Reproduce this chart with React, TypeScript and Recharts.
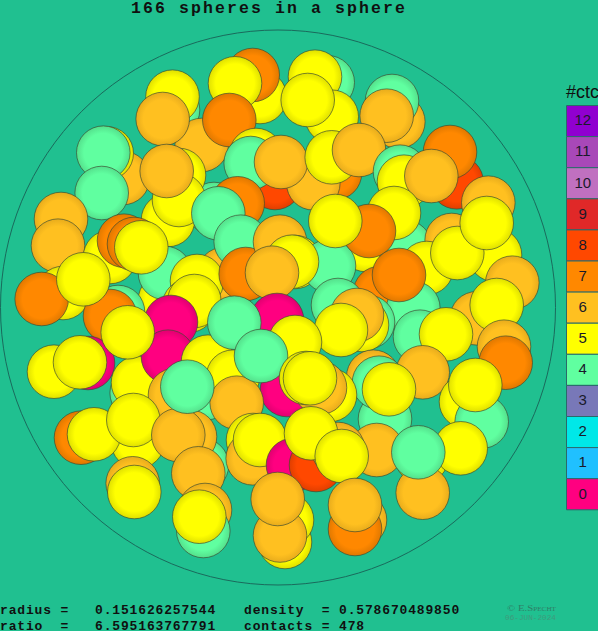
import React from "react";
import { ScatterChart, Scatter, XAxis, YAxis, ReferenceArea, ReferenceDot } from "recharts";

// one row per visible sphere, back to front: position in picture units, contact count
const sphereX = [
  260,252.7,235,173,172.5,201.7,162.7,229.3,
  123,106.7,103.3,101.7,
  214,168,179,179,166.7,
  275,335,313.3,256,250.7,281,237.7,218.3,
  165,165,61,58,110,124,134,141.3,
  224,197,240.7,245.7,280,295,
  189,194.3,
  63,41.7,118,110,83.3,
  171,88,54,80,136.7,138,168,127.7,
  327.7,315,331.7,307.7,
  398.3,392,386.7,
  331.7,359,400,404,
  456.7,450,431.3,488.3,
  366,329,405,394,369,335.3,292,272,
  451.7,495,512.3,426.7,457.3,486.7,
  380,413.3,399,420,338,368,362,357,341,
  476.7,496.7,446,
  504,505.7,
  277,287,207,208,233,175,234.3,295,236.7,261,
  385,422.7,373.3,379,389,
  330,320,306,310,
  466,481.7,475.3,
  421.7,422.7,460.7,376.7,418.3,
  81,137.7,94,133.3,
  202,190,178.3,187.3,198.3,
  132.7,134.3,
  205,203.3,199.3,
  253,252.7,260,
  293,316,338,311,341.7,
  285,287,280,277.7,
  360,355,355,
];
const sphereY = [
  97,75,83.3,110,96.7,145,119,120,
  178,153.3,152.7,193,
  209,220,175,200,171,
  183,173,183.3,155,163,162,203.3,213.3,
  300,273,219,245.7,257,240.7,244,247.3,
  274,281,241.7,274,241.7,262,
  305.7,301,
  293,299,312,316,279.3,
  322,363,371.7,362.3,393,382.7,356.7,332.3,
  82.3,76.7,116.7,100,
  121.7,101,115.7,
  157.3,150,171.7,181.7,
  182.3,152,176,202.7,
  245,266,246.7,213,231,221,261.7,272.7,
  240,255,282.7,268,253,223,
  293,308,275,336.7,305,322,325,315,330,
  318.3,305,334.3,
  346.7,362.7,
  320,390,393,361.7,376.7,395,322.7,342,402.7,356,
  419,372.3,376.7,382.7,389.3,
  395,387.7,378,378.3,
  401.7,421.7,385,
  457,492.7,448.3,450,452.3,
  437.7,441.7,434.3,420,
  465,436.7,435,386.7,473.3,
  483.3,492,
  510,531,516.7,
  440,458.3,440,
  465,465,449,433.3,456,
  542,520,535.5,499,
  520,529,505,
];
const sphereCtc = [
  5,7,5,4,5,6,6,7,
  6,5,4,4,
  4,5,5,5,6,
  8,7,6,5,4,6,7,4,
  5,4,6,6,5,7,7,5,
  6,5,4,7,6,5,
  5,5,
  5,7,4,7,5,
  0,0,5,5,4,5,0,5,
  4,5,5,5,
  6,4,6,
  5,6,4,5,
  8,7,6,6,
  5,4,4,5,7,5,5,6,
  6,5,6,5,5,5,
  7,4,7,4,4,4,5,6,5,
  6,5,5,
  6,7,
  0,0,4,5,5,6,4,5,6,4,
  4,6,6,4,5,
  5,6,5,5,
  5,4,5,
  5,6,5,6,4,
  7,5,5,5,
  4,6,6,4,6,
  6,5,
  6,4,5,
  5,6,5,
  0,8,6,5,5,
  5,5,6,6,
  6,7,6,
];

const ctcClasses = [12,11,10,9,8,7,6,5,4,3,2,1,0];
const ctcColors = ["#9000d0","#a848b8","#c070c0","#e02828","#ff4800","#ff8800","#ffc020","#ffff00","#60ffa0","#7878b8","#00e8e8","#20c0ff","#ff0080"];
const ctcEdges = ["#7c00b4","#9040a0","#a860a8","#c02020","#e03e00","#e07800","#e8ac1c","#e0e000","#54e08c","#686aa0","#00cccc","#1ca8e0","#e00070"];

const titleText = "166 spheres in a sphere";
const footerRows = [
  ["radius =   0.151626257544", "density  = 0.578670489850"],
  ["ratio  =   6.595163767791", "contacts = 478"],
];
const creditRows = ["© E.Specht", "06-JUN-2024"];

const spheres = sphereX.map((x, i) => ({ x, y: sphereY[i], ctc: sphereCtc[i] }));
const gradientId = (ctc: number) => `sphere-${ctc}`;

const Sphere = (props: any) => (
  <circle
    cx={props.cx}
    cy={props.cy}
    r={26.8}
    fill={`url(#${gradientId(props.payload.ctc)})`}
    stroke="#3c4a30"
    strokeOpacity={0.75}
    strokeWidth={0.9}
  />
);

const preText: React.CSSProperties = { whiteSpace: "pre" };

export default function App() {
  return (
    <div style={{ position: "absolute", left: 0, top: 0, width: 598, height: 631, overflow: "hidden", background: "#20c090" }}>
      <ScatterChart width={598} height={631} margin={{ top: 0, right: 0, bottom: 0, left: 0 }}>
        <defs>
          {ctcClasses.map((c, i) => (
            <radialGradient key={c} id={gradientId(c)} cx="50%" cy="50%" r="50%">
              <stop offset="0%" stopColor={ctcColors[i]} />
              <stop offset="72%" stopColor={ctcColors[i]} />
              <stop offset="100%" stopColor={ctcEdges[i]} />
            </radialGradient>
          ))}
        </defs>
        <XAxis type="number" dataKey="x" domain={[0, 598]} hide />
        <YAxis type="number" dataKey="y" domain={[0, 631]} reversed hide />
        <ReferenceDot x={278} y={307.5} r={277.5} fill="none" stroke="#1a6a5c" strokeWidth={1} ifOverflow="visible" />
        {ctcClasses.map((c, i) => (
          <ReferenceArea
            key={c}
            x1={566.5}
            x2={600}
            y1={105.5 + i * 31.1}
            y2={105.5 + (i + 1) * 31.1}
            fill={ctcColors[i]}
            fillOpacity={1}
            stroke="#2a6a6a"
            strokeWidth={1}
            ifOverflow="visible"
            label={{ value: String(c), position: "center", dx: -0.5, dy: -1, fill: "#1a1a2a", fontSize: 15, fontFamily: "Liberation Sans" }}
          />
        ))}
        <Scatter data={spheres} shape={Sphere} isAnimationActive={false} />
      </ScatterChart>
      <svg width={598} height={631} style={{ position: "absolute", left: 0, top: 0, pointerEvents: "none" }}>
        <text x={131} y={12.5} fontFamily="Liberation Mono" fontWeight="bold" fontSize={16.5} letterSpacing={2.1} fill="#101010" xmlSpace="preserve" style={preText}>{titleText}</text>
        <text x={566} y={98} fontFamily="Liberation Sans" fontSize={18} fill="#101010">#ctc</text>
        {footerRows.map((row, i) => (
          <g key={i} fontFamily="Liberation Mono" fontSize={13} letterSpacing={0.84} fill="#101010" fontWeight="bold">
            <text x={0} y={614 + i * 15.5} xmlSpace="preserve" style={preText}>{row[0]}</text>
            <text x={244} y={614 + i * 15.5} xmlSpace="preserve" style={preText}>{row[1]}</text>
          </g>
        ))}
        <text x={507} y={611} textLength={49} lengthAdjust="spacingAndGlyphs" fontFamily="Liberation Serif" fontVariant="small-caps" fontSize={9} fill="#2f7f66">{creditRows[0]}</text>
        <text x={505} y={620} textLength={51} lengthAdjust="spacingAndGlyphs" fontFamily="Liberation Mono" fontSize={8} fill="#3f9a7c">{creditRows[1]}</text>
      </svg>
    </div>
  );
}
